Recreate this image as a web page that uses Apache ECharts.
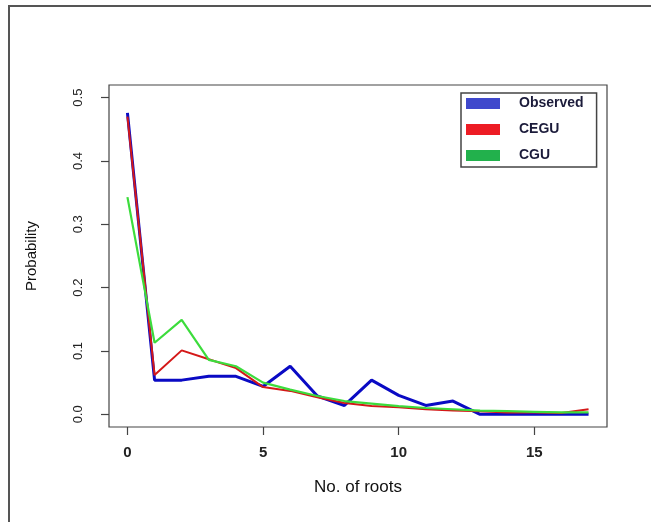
<!DOCTYPE html>
<html>
<head>
<meta charset="utf-8">
<script src="https://cdn.jsdelivr.net/npm/echarts@6/dist/echarts.min.js"></script>
<style>
html,body{margin:0;padding:0;background:#fff;}
#c{width:651px;height:522px;}
</style>
</head>
<body>
<div id="c"></div>
<script>
var roots = [0,1,2,3,4,5,6,7,8,9,10,11,12,13,14,15,16,17];
var observed = [0.476,0.054,0.054,0.060,0.060,0.044,0.076,0.029,0.014,0.054,0.030,0.014,0.021,0,0,0,0,0];
var cegu = [0.470,0.062,0.101,0.087,0.073,0.043,0.037,0.027,0.018,0.013,0.011,0.008,0.006,0.005,0.003,0.003,0.002,0.008];
var cgu = [0.343,0.113,0.149,0.086,0.076,0.050,0.039,0.029,0.021,0.017,0.013,0.010,0.008,0.006,0.005,0.004,0.003,0.003];
var xTicks = [0,5,10,15];
var yTicks = [0,0.1,0.2,0.3,0.4,0.5];
var seriesNames = ['Observed','CEGU','CGU'];

function pairs(v){ return roots.map(function(r,i){ return [r, v[i]]; }); }

var chart = echarts.init(document.getElementById('c'));
chart.setOption({
  animation: false,
  backgroundColor: '#fff',
  graphic: [{
    type: 'rect', shape: {x: 9, y: 6, width: 700, height: 600},
    style: {fill: 'none', stroke: '#555', lineWidth: 2}, silent: true
  }],
  grid: {left: 109, right: 44, top: 85, bottom: 95, show: true, borderColor: '#444', borderWidth: 1.2, backgroundColor: 'transparent'},
  legend: {
    orient: 'vertical', left: 461, top: 93,
    padding: [3, 13, 4, 5],
    borderColor: '#444', borderWidth: 1.5,
    itemWidth: 34, itemHeight: 11, itemGap: 11,
    icon: 'rect',
    textStyle: {fontFamily: 'Liberation Sans', fontWeight: 'bold', fontSize: 14, color: '#1b1b3a', lineHeight: 15, padding: [0,0,0,14]},
    data: [
      {name: seriesNames[0], itemStyle: {color: '#3f48cc'}},
      {name: seriesNames[1], itemStyle: {color: '#ed1c24'}},
      {name: seriesNames[2], itemStyle: {color: '#22b14c'}}
    ]
  },
  xAxis: {
    type: 'value', min: -0.68, max: 17.68,
    name: 'No. of roots', nameLocation: 'middle', nameGap: 52,
    nameTextStyle: {fontFamily: 'Liberation Sans', fontSize: 17, color: '#111'},
    axisLine: {show: false, onZero: false},
    axisTick: {show: true, length: 8, customValues: xTicks, lineStyle: {color: '#444', width: 1.2}},
    axisLabel: {customValues: xTicks, margin: 18, fontFamily: 'Liberation Sans', fontSize: 15, fontWeight: 'bold', color: '#222'},
    splitLine: {show: false}
  },
  yAxis: {
    type: 'value', min: -0.02, max: 0.52,
    name: 'Probability', nameLocation: 'middle', nameGap: 70, nameRotate: 90,
    nameTextStyle: {fontFamily: 'Liberation Sans', fontSize: 15, color: '#111'},
    axisLine: {show: false, onZero: false},
    axisTick: {show: true, length: 8, customValues: yTicks, lineStyle: {color: '#444', width: 1.2}},
    axisLabel: {customValues: yTicks, rotate: 90, margin: 24, fontFamily: 'Liberation Sans', fontSize: 13, color: '#222',
      formatter: function(v){ return v.toFixed(1); }},
    splitLine: {show: false}
  },
  series: [
    {name: seriesNames[0], type: 'line', data: pairs(observed), showSymbol: false, color: '#3f48cc',
      lineStyle: {color: '#0a0ac4', width: 3}},
    {name: seriesNames[1], type: 'line', data: pairs(cegu), showSymbol: false, color: '#ed1c24',
      lineStyle: {color: '#d41818', width: 2}},
    {name: seriesNames[2], type: 'line', data: pairs(cgu), showSymbol: false, color: '#22b14c',
      lineStyle: {color: '#3cdc3c', width: 2.2}}
  ]
});
</script>
</body>
</html>
